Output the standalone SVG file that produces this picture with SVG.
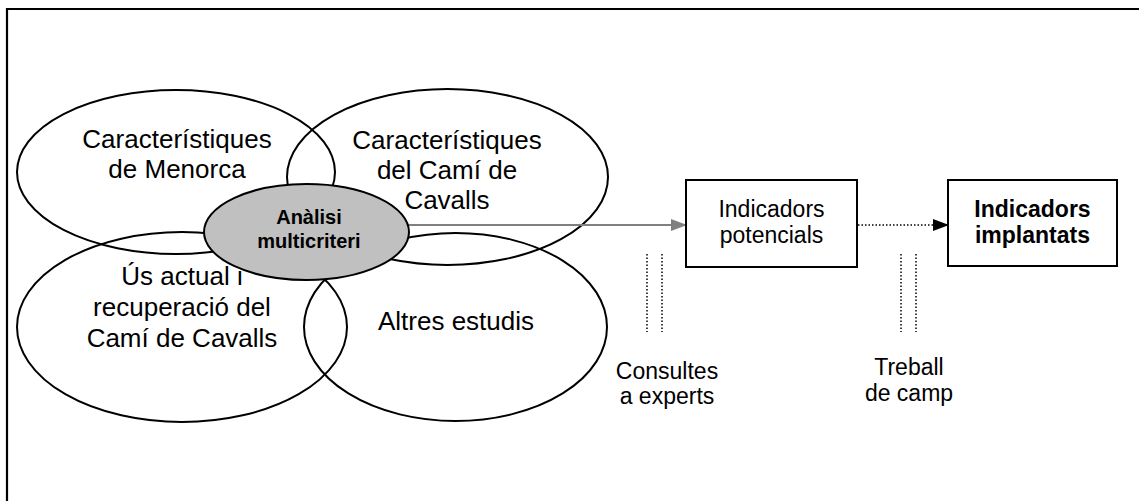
<svg xmlns="http://www.w3.org/2000/svg" width="1139" height="501" viewBox="0 0 1139 501">
<style>
.t{font-family:"Liberation Sans",Arial,sans-serif;font-size:26px;fill:#000;text-anchor:middle}
.s{font-size:23px}
.b{font-weight:bold}
.e{fill:none;stroke:#000;stroke-width:2}
.box{fill:#fff;stroke:#000;stroke-width:2}
.v{stroke:#000;stroke-width:1.5;stroke-dasharray:1.5 2;fill:none}
</style>
<defs>
<marker id="ag" markerWidth="16" markerHeight="12" refX="15" refY="6" orient="auto" markerUnits="userSpaceOnUse"><path d="M0,0 L16,6 L0,12 Z" fill="#808080"/></marker>
<marker id="ab" markerWidth="16" markerHeight="12" refX="15" refY="6" orient="auto" markerUnits="userSpaceOnUse"><path d="M0,0 L16,6 L0,12 Z" fill="#000"/></marker>
</defs>
<rect width="1139" height="501" fill="#fff"/>
<path d="M7,501 V9 H1139" fill="none" stroke="#000" stroke-width="2.2"/>
<g id="menorca"><ellipse class="e" cx="176" cy="172" rx="159" ry="82"/><text class="t" x="177" y="148">Característiques</text><text class="t" x="177" y="178">de Menorca</text></g>
<g id="cami"><ellipse class="e" cx="447.5" cy="177" rx="160.5" ry="88"/><text class="t" x="447" y="149">Característiques</text><text class="t" x="447" y="179">del Camí de</text><text class="t" x="447" y="209">Cavalls</text></g>
<g id="us"><ellipse class="e" cx="182" cy="327" rx="165" ry="95"/><text class="t" x="182" y="285">Ús actual i</text><text class="t" x="182" y="316">recuperació del</text><text class="t" x="182" y="347">Camí de Cavalls</text></g>
<g id="altres"><ellipse class="e" cx="455.5" cy="327" rx="151.5" ry="94"/><text class="t" x="456" y="330">Altres estudis</text></g>
<g id="connectors">
<line x1="408" y1="225" x2="686" y2="225" stroke="#808080" stroke-width="2" marker-end="url(#ag)"/>
<line x1="858" y1="225" x2="948" y2="225" stroke="#000" stroke-width="1.5" stroke-dasharray="1.5 2" marker-end="url(#ab)"/>
<path class="v" d="M647,254 V332 M662,254 V332 M901,254 V332 M916,254 V332"/>
</g>
<g id="analisi"><ellipse cx="306.5" cy="232" rx="102.5" ry="48" fill="#c0c0c0" stroke="#000" stroke-width="2"/><text class="t b" style="font-size:20px" x="309" y="224">Anàlisi</text><text class="t b" style="font-size:20px" x="309" y="248">multicriteri</text></g>
<g id="potencials"><rect class="box" x="686" y="180" width="171" height="87"/><text class="t s" x="771.5" y="217">Indicadors</text><text class="t s" x="771.5" y="243">potencials</text></g>
<g id="implantats"><rect class="box" x="948" y="180" width="169" height="86"/><text class="t s b" x="1032.5" y="217">Indicadors</text><text class="t s b" x="1032.5" y="243">implantats</text></g>
<g id="consultes"><text class="t s" x="667" y="379">Consultes</text><text class="t s" x="667" y="404">a experts</text></g>
<g id="treball"><text class="t s" x="909" y="375">Treball</text><text class="t s" x="909" y="401">de camp</text></g>
</svg>
